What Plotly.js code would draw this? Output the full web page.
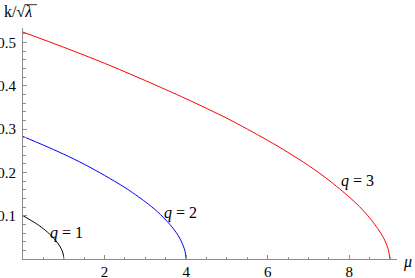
<!DOCTYPE html>
<html><head><meta charset="utf-8">
<script src="https://cdn.plot.ly/plotly-3.0.1.min.js"></script>
<style>html,body{margin:0;padding:0;background:#fff;}</style>
</head><body>
<div id="chart" style="width:415px;height:278px;"></div>
<script>
// q = 1 curve
const mu1 = [0, 0.2, 0.4, 0.6, 0.8, 0.9, 0.96, 0.99, 1];
const k1  = [0.100, 0.089, 0.077, 0.062, 0.043, 0.030, 0.019, 0.009, 0];
// q = 2 curve
const mu2 = [0, 0.5, 1, 1.5, 2, 2.5, 3, 3.3, 3.6, 3.8, 3.9, 3.97, 4];
const k2  = [0.283, 0.263, 0.242, 0.219, 0.193, 0.165, 0.132, 0.109, 0.080, 0.055, 0.037, 0.019, 0];
// q = 3 curve
const mu3 = [0, 1, 2, 3, 4, 5, 5.5, 6, 6.5, 7, 7.5, 8, 8.25, 8.5, 8.7, 8.85, 8.95, 9];
const k3  = [0.524, 0.489, 0.452, 0.412, 0.370, 0.325, 0.300, 0.274, 0.246, 0.216, 0.182, 0.143, 0.121, 0.095, 0.070, 0.047, 0.024, 0];

const curveLabels = ["q = 1", "q = 2", "q = 3"];
const xTicks = [2, 4, 6, 8];
const yTicks = [0.1, 0.2, 0.3, 0.4, 0.5];
const yTickText = ["0.1", "0.2", "0.3", "0.4", "0.5"];

const serif = "Liberation Serif";
const axisGray = "#8c8c8c";

const traces = [
  {x: mu1, y: k1, mode: "lines", line: {color: "#000000", width: 1, shape: "spline", smoothing: 0.8}},
  {x: mu2, y: k2, mode: "lines", line: {color: "#0000ff", width: 1, shape: "spline", smoothing: 0.8}},
  {x: mu3, y: k3, mode: "lines", line: {color: "#ff0000", width: 1, shape: "spline", smoothing: 0.8}}
];

function lab(t){ return "<i>q</i> = " + t.split("= ")[1]; }

const layout = {
  width: 415, height: 278,
  margin: {l: 23, r: 18, t: 28, b: 19, pad: 0},
  paper_bgcolor: "#fff", plot_bgcolor: "#fff",
  showlegend: false,
  font: {family: serif, size: 15, color: "#000"},
  xaxis: {
    range: [0, 9.17], showgrid: false, zeroline: false,
    showline: true, linecolor: axisGray, linewidth: 1,
    tickmode: "array", tickvals: xTicks, ticktext: xTicks.map(String),
    ticks: "inside", ticklen: 4, tickcolor: axisGray, tickwidth: 1,
    minor: {tickmode: "linear", tick0: 0, dtick: 0.5, ticks: "inside", ticklen: 2.5, tickcolor: axisGray, tickwidth: 1, showgrid: false},
    tickfont: {family: serif, size: 15, color: "#000"},
    ticklabelstandoff: -1
  },
  yaxis: {
    range: [0, 0.5335], showgrid: false, zeroline: false,
    showline: true, linecolor: axisGray, linewidth: 1,
    tickmode: "array", tickvals: yTicks, ticktext: yTickText,
    ticks: "inside", ticklen: 4, tickcolor: axisGray, tickwidth: 1,
    minor: {tickmode: "linear", tick0: 0, dtick: 0.02, ticks: "inside", ticklen: 2.5, tickcolor: axisGray, tickwidth: 1, showgrid: false},
    tickfont: {family: serif, size: 15, color: "#000"},
    ticklabelstandoff: 3
  },
  annotations: [
    {xref: "x", yref: "y", x: 1.07, y: 0.061, text: lab(curveLabels[0]), showarrow: false, font: {family: serif, size: 16}},
    {xref: "x", yref: "y", x: 3.87, y: 0.107, text: lab(curveLabels[1]), showarrow: false, font: {family: serif, size: 16}},
    {xref: "x", yref: "y", x: 8.19, y: 0.181, text: lab(curveLabels[2]), showarrow: false, font: {family: serif, size: 16}},
    {xref: "paper", yref: "paper", x: 1.0, y: 0.0, xanchor: "left", yanchor: "middle", xshift: 4, yshift: -3, text: "<i>μ</i>", showarrow: false, font: {family: serif, size: 16}},
    {xref: "paper", yref: "paper", x: 0, y: 1, xanchor: "left", yanchor: "bottom", xshift: -21, yshift: 6, text: "k/√<i>λ</i>", showarrow: false, font: {family: serif, size: 16}}
  ],
  shapes: [
    {type: "line", xref: "paper", yref: "paper", x0: 0.0054, x1: 0.0374, y0: 1.101, y1: 1.101, line: {color: "#000", width: 0.8}}
  ]
};

Plotly.newPlot("chart", traces, layout, {displayModeBar: false, staticPlot: true});
</script>
</body></html>
